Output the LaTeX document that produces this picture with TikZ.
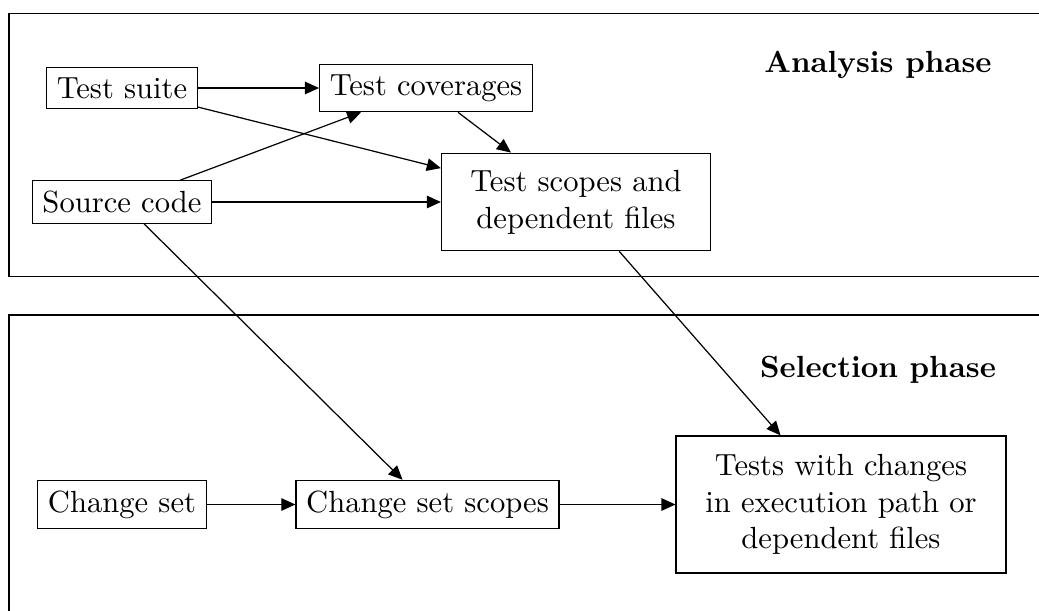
\documentclass[tikz,border=0pt]{standalone}
\usetikzlibrary{arrows.meta}
\begin{document}
\begin{tikzpicture}[x=0.3268pt,y=-0.3268pt,
  box/.style={draw, line width=0.4pt, inner sep=3.33pt},
  bigbox/.style={box, align=center},
  arr/.style={-{Triangle[length=4.6pt,width=4.1pt]}, line width=0.4pt},
  phase/.style={font=\bfseries, anchor=base},
  frame/.style={draw, line width=0.4pt}]
\useasboundingbox (0,0) rectangle (1039,610);
\clip (0,0) rectangle (1039,610);
% phase frames
\draw[frame] (9,13.3) rectangle (1080,276.7);
\draw[frame] (9,315) rectangle (1080,660);
% labels
\node[phase] (analysis) at (878,73) {Analysis phase};
\node[phase] (selection) at (878,377) {Selection phase};
% analysis nodes
\node[box] (suite) at (122,88) {Test suite};
\node[box] (cov) at (426,88) {Test coverages};
\node[box] (src) at (122,202) {Source code};
\node[bigbox, minimum width=87.9pt, minimum height=31.9pt] (scopes) at (576,202) {Test scopes and\\dependent files};
% selection nodes
\node[box] (cset) at (122,504.5) {Change set};
\node[box] (cscopes) at (427.5,504.5) {Change set scopes};
\node[bigbox, minimum width=107.8pt, minimum height=44.8pt] (tests) at (841,504.5) {Tests with changes\\in execution path or\\dependent files};
% connectors
\draw[arr] (suite) -- (cov);
\draw[arr] (suite) -- (scopes);
\draw[arr] (src) -- (cov);
\draw[arr] (cov) -- (scopes);
\draw[arr] (src) -- (scopes);
\draw[arr] (src) -- (cscopes);
\draw[arr] (scopes) -- (tests);
\draw[arr] (cset) -- (cscopes);
\draw[arr] (cscopes) -- (tests);
\end{tikzpicture}
\end{document}
